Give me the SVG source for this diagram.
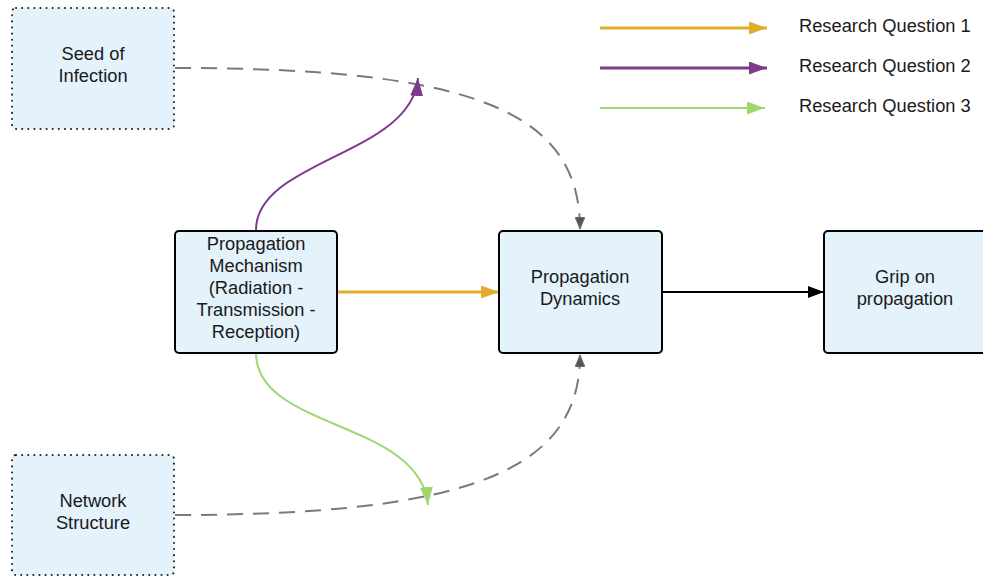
<svg xmlns="http://www.w3.org/2000/svg" width="983" height="576" viewBox="0 0 983 576">
  <style>
    .box { fill: #e3f2fb; stroke: #000; stroke-width: 2; }
    .dotted { fill: #e3f2fb; stroke: #222; stroke-width: 2; stroke-dasharray: 0.1 6; stroke-linecap: round; }
    text { font-family: "Liberation Sans", Arial, sans-serif; font-size: 18.3px; fill: #1a1a1a; text-anchor: middle; }
    .legend { text-anchor: start; }
    .dash { fill: none; stroke: #7a7a7a; stroke-width: 2; stroke-dasharray: 16 10; }
  </style>
  <defs>
    <marker id="mOrangeL" viewBox="0 0 10 10" refX="10" refY="5" markerWidth="18" markerHeight="13" markerUnits="userSpaceOnUse" orient="auto" preserveAspectRatio="none">
      <path d="M0,0 L10,5 L0,10 z" fill="#e1ab2e"/>
    </marker>
    <marker id="mPurpleL" viewBox="0 0 10 10" refX="10" refY="5" markerWidth="18" markerHeight="13" markerUnits="userSpaceOnUse" orient="auto" preserveAspectRatio="none">
      <path d="M0,0 L10,5 L0,10 z" fill="#7d3b8c"/>
    </marker>
    <marker id="mGreenL" viewBox="0 0 10 10" refX="10" refY="5" markerWidth="18" markerHeight="13" markerUnits="userSpaceOnUse" orient="auto" preserveAspectRatio="none">
      <path d="M0,0 L10,5 L0,10 z" fill="#9dd86e"/>
    </marker>
    <marker id="mBlack" viewBox="0 0 10 10" refX="10" refY="5" markerWidth="16" markerHeight="12" markerUnits="userSpaceOnUse" orient="auto" preserveAspectRatio="none">
      <path d="M0,0 L10,5 L0,10 z" fill="#000"/>
    </marker>
    <marker id="mGray" viewBox="0 0 10 10" refX="10" refY="5" markerWidth="12" markerHeight="10" markerUnits="userSpaceOnUse" orient="auto" preserveAspectRatio="none">
      <path d="M0,0 L10,5 L0,10 z" fill="#555" stroke="#777" stroke-width="1"/>
    </marker>
  </defs>

  <!-- connectors -->
  <g id="connectors">
    <path class="dash" d="M175,68 C470,68 580,110 580,229" marker-end="url(#mGray)"/>
    <path class="dash" d="M175,515 C470,515 580,470 580,355" marker-end="url(#mGray)"/>
    <path d="M256,230 C256,160 412,155 418,78" fill="none" stroke="#7d3b8c" stroke-width="2" marker-end="url(#mPurpleL)"/>
    <path d="M256,353 C256,430 420,420 428,505" fill="none" stroke="#9dd86e" stroke-width="2" marker-end="url(#mGreenL)"/>
    <path d="M338,292 L499,292" fill="none" stroke="#e1ab2e" stroke-width="3" marker-end="url(#mOrangeL)"/>
    <path d="M662,292 L824,292" fill="none" stroke="#000" stroke-width="2" marker-end="url(#mBlack)"/>
  </g>

  <!-- legend -->
  <g id="legend">
    <path d="M600,28 L767,28" stroke="#e1ab2e" stroke-width="3" marker-end="url(#mOrangeL)"/>
    <path d="M600,68 L767,68" stroke="#7d3b8c" stroke-width="3" marker-end="url(#mPurpleL)"/>
    <path d="M600,108 L765,108" stroke="#9dd86e" stroke-width="2" marker-end="url(#mGreenL)"/>
    <text class="legend" x="799" y="32">Research Question 1</text>
    <text class="legend" x="799" y="72">Research Question 2</text>
    <text class="legend" x="799" y="112">Research Question 3</text>
  </g>

  <g id="seed">
    <rect class="dotted" x="12" y="8" width="162" height="121" rx="4"/>
    <text x="93" y="60">Seed of</text>
    <text x="93" y="82">Infection</text>
  </g>

  <g id="network">
    <rect class="dotted" x="12" y="455" width="162" height="120" rx="4"/>
    <text x="93" y="507">Network</text>
    <text x="93" y="529">Structure</text>
  </g>

  <g id="mechanism">
    <rect class="box" x="175" y="231" width="162" height="122" rx="4"/>
    <text x="256" y="250">Propagation</text>
    <text x="256" y="272">Mechanism</text>
    <text x="256" y="294">(Radiation -</text>
    <text x="256" y="316">Transmission -</text>
    <text x="256" y="338">Reception)</text>
  </g>

  <g id="dynamics">
    <rect class="box" x="499" y="231" width="163" height="122" rx="4"/>
    <text x="580" y="283">Propagation</text>
    <text x="580" y="305">Dynamics</text>
  </g>

  <g id="grip">
    <rect class="box" x="824" y="231" width="170" height="122" rx="4"/>
    <text x="905" y="283">Grip on</text>
    <text x="905" y="305">propagation</text>
  </g>
</svg>
